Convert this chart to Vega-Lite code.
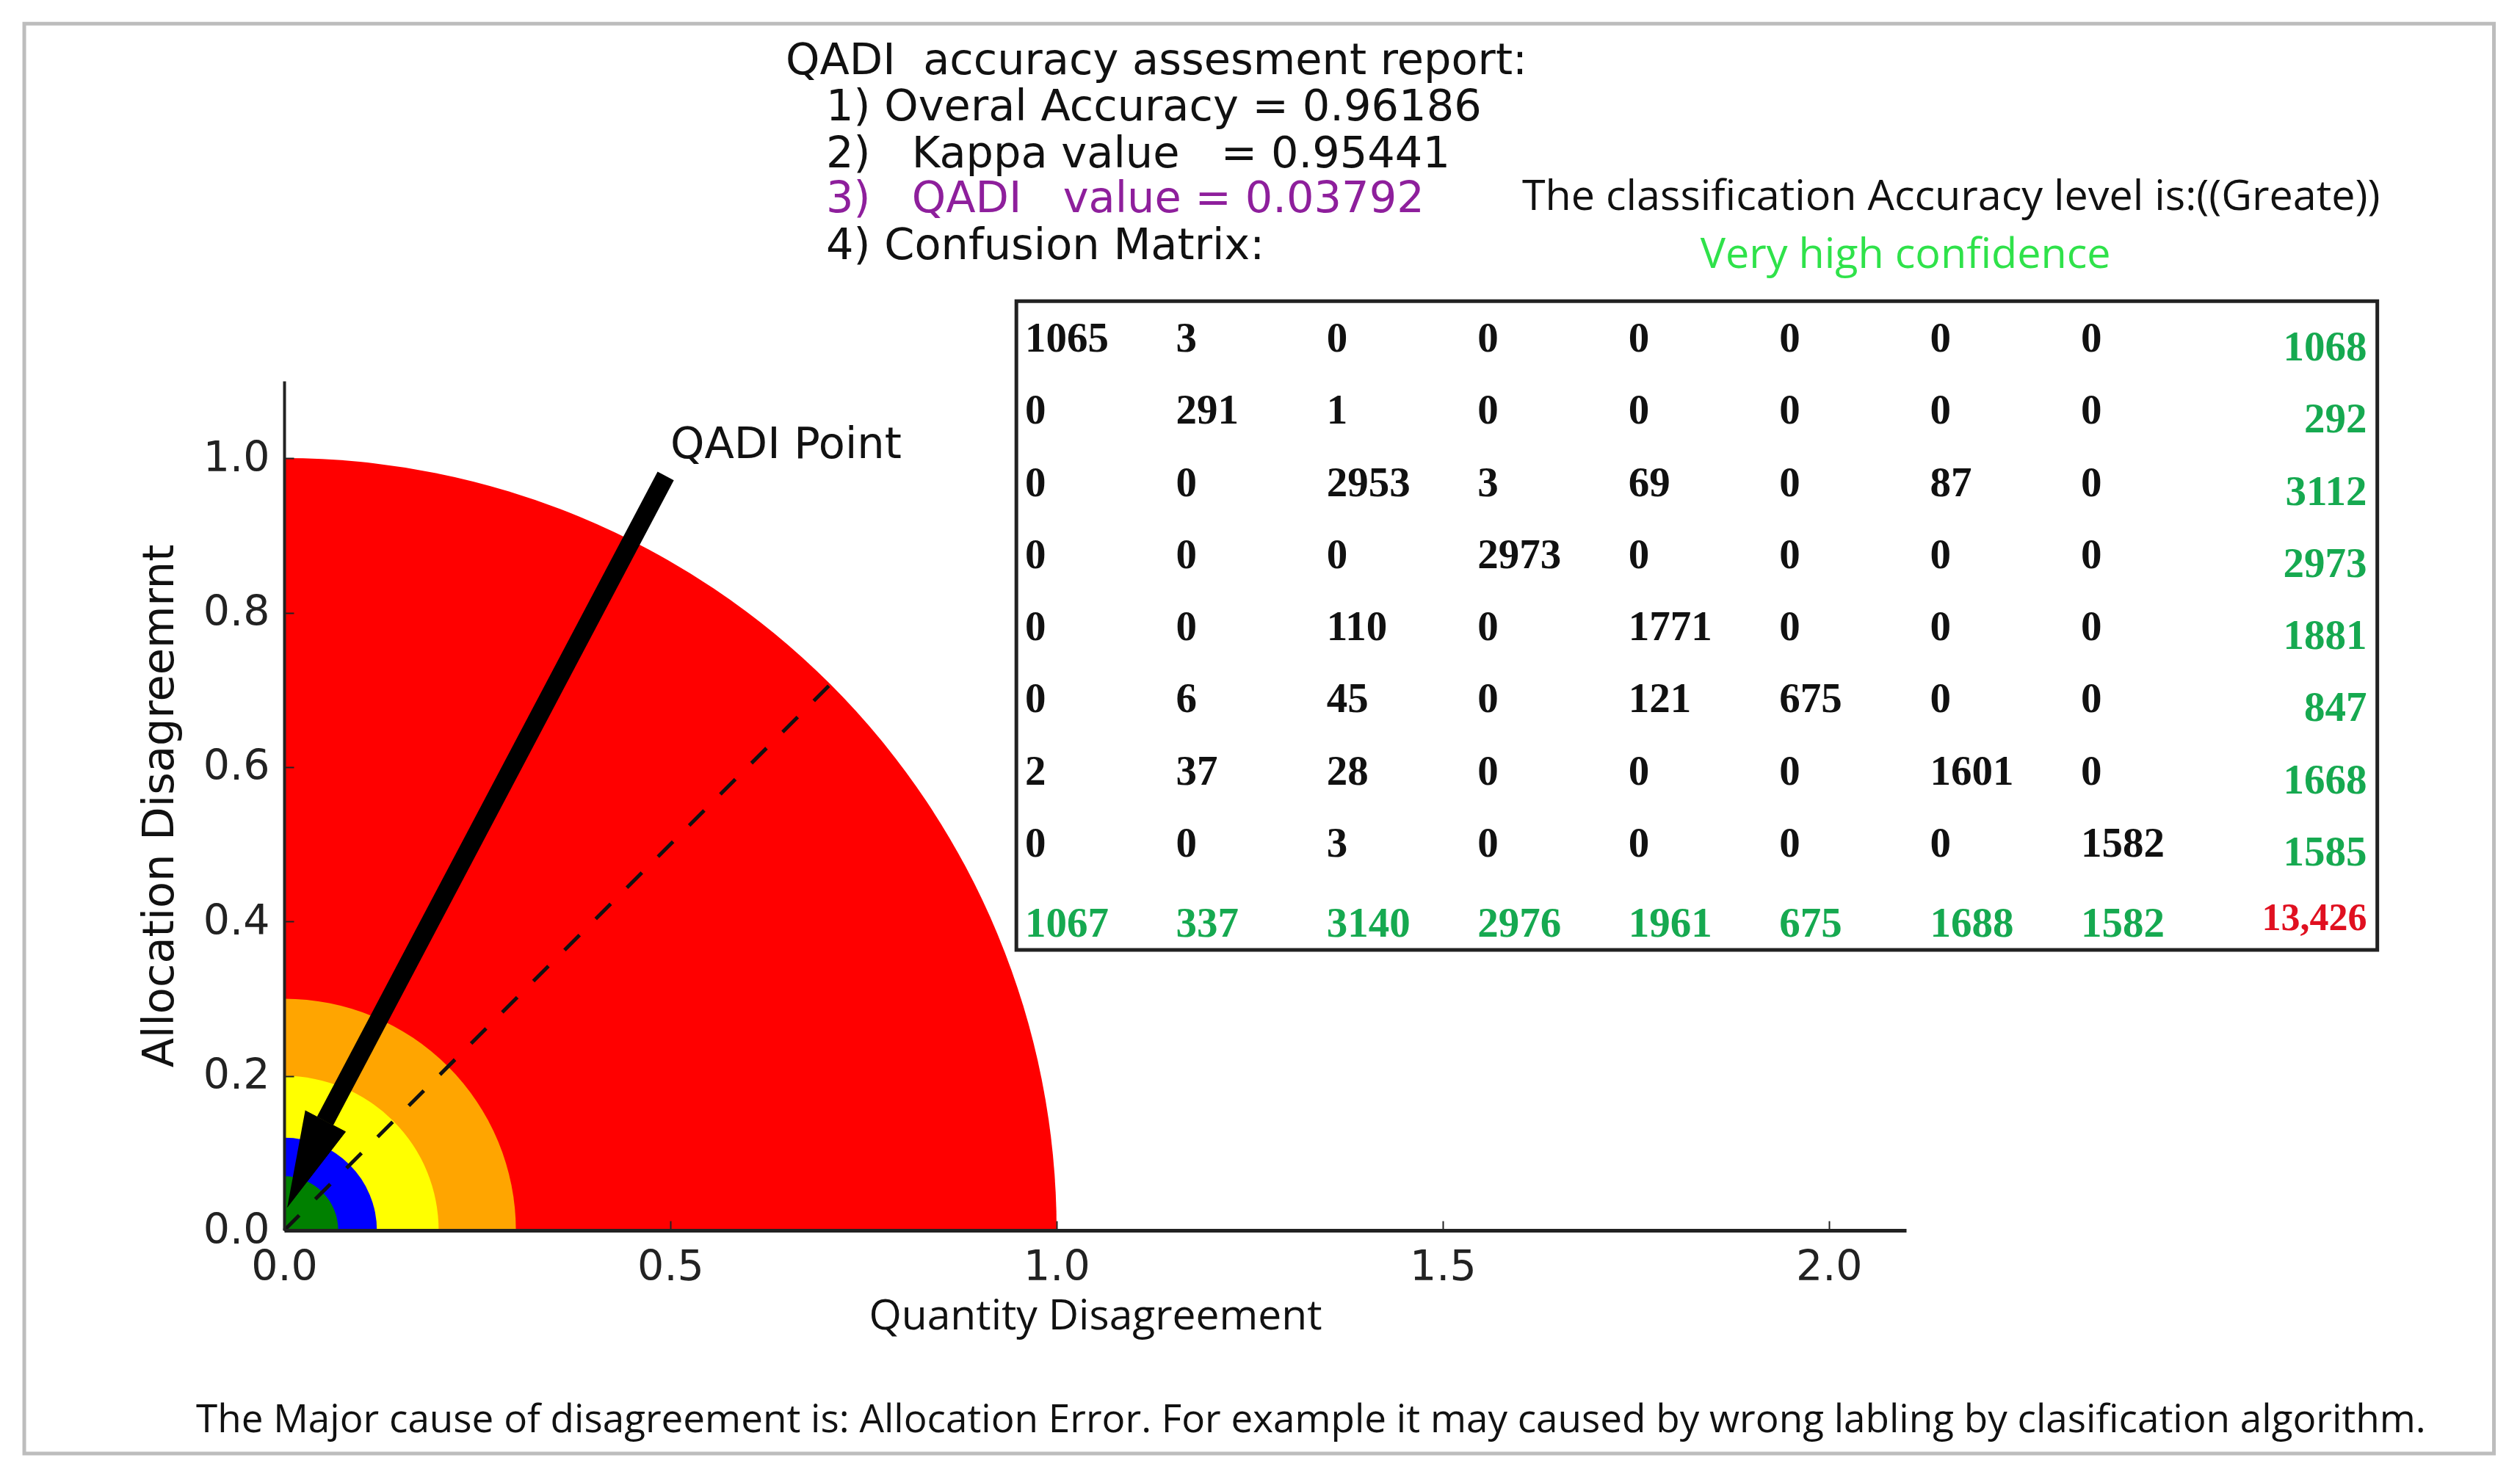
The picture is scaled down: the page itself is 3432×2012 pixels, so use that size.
{
  "$schema": "https://vega.github.io/schema/vega-lite/v6.json",
  "width": 2209,
  "height": 1157,
  "autosize": "none",
  "padding": {"left": 387, "top": 519, "right": 836, "bottom": 336},
  "background": "white",
  "config": {"view": {"stroke": null}},
  "datasets": {
    "zones": [
      {"zone": "red", "qd": 0, "ad": 0, "radius": 1.0},
      {"zone": "orange", "qd": 0, "ad": 0, "radius": 0.3},
      {"zone": "yellow", "qd": 0, "ad": 0, "radius": 0.2},
      {"zone": "blue", "qd": 0, "ad": 0, "radius": 0.12},
      {"zone": "green", "qd": 0, "ad": 0, "radius": 0.07}
    ],
    "diagonal": [{"qd": 0, "ad": 0}, {"qd": 0.707, "ad": 0.707}],
    "shaft": [{"qd": 0.494, "ad": 0.977}, {"qd": 0.053, "ad": 0.1416}],
    "head": [
      {"seq": 1, "qd": 0.0272, "ad": 0.155},
      {"seq": 2, "qd": 0.0794, "ad": 0.1277},
      {"seq": 3, "qd": 0.004, "ad": 0.03}
    ],
    "notes": [
      {"group": "report", "tone": "ink", "qd": 0.6493, "ad": 1.5142, "text": "QADI\u00a0\u00a0accuracy assesment report:"},
      {"group": "report", "tone": "ink", "qd": 0.7015, "ad": 1.4543, "text": "1) Overal Accuracy = 0.96186"},
      {"group": "report", "tone": "ink", "qd": 0.7015, "ad": 1.3934, "text": "2)\u00a0\u00a0\u00a0Kappa value\u00a0\u00a0\u00a0= 0.95441"},
      {"group": "report", "tone": "purple", "qd": 0.7015, "ad": 1.3355, "text": "3)\u00a0\u00a0\u00a0QADI\u00a0\u00a0\u00a0value = 0.03792"},
      {"group": "report", "tone": "ink", "qd": 0.7015, "ad": 1.2746, "text": "4) Confusion Matrix:"},
      {"group": "report", "tone": "ink", "qd": 0.5, "ad": 1.0169, "text": "QADI Point"},
      {"group": "side", "tone": "ink", "qd": 1.6027, "ad": 1.3373, "text": "The classification Accuracy level is:((Greate))"},
      {"group": "side", "tone": "lime", "qd": 1.8336, "ad": 1.2622, "text": "Very high confidence"},
      {"group": "foot", "tone": "ink", "qd": -0.1141, "ad": -0.2464, "text": "The Major cause of disagreement is: Allocation Error. For example it may caused by wrong labling by clasification algorithm."}
    ],
    "matrix": [
      {"kind": "count", "r": 1, "c": 1, "n": 1065}, {"kind": "count", "r": 1, "c": 2, "n": 3}, {"kind": "count", "r": 1, "c": 3, "n": 0}, {"kind": "count", "r": 1, "c": 4, "n": 0}, {"kind": "count", "r": 1, "c": 5, "n": 0}, {"kind": "count", "r": 1, "c": 6, "n": 0}, {"kind": "count", "r": 1, "c": 7, "n": 0}, {"kind": "count", "r": 1, "c": 8, "n": 0},
      {"kind": "count", "r": 2, "c": 1, "n": 0}, {"kind": "count", "r": 2, "c": 2, "n": 291}, {"kind": "count", "r": 2, "c": 3, "n": 1}, {"kind": "count", "r": 2, "c": 4, "n": 0}, {"kind": "count", "r": 2, "c": 5, "n": 0}, {"kind": "count", "r": 2, "c": 6, "n": 0}, {"kind": "count", "r": 2, "c": 7, "n": 0}, {"kind": "count", "r": 2, "c": 8, "n": 0},
      {"kind": "count", "r": 3, "c": 1, "n": 0}, {"kind": "count", "r": 3, "c": 2, "n": 0}, {"kind": "count", "r": 3, "c": 3, "n": 2953}, {"kind": "count", "r": 3, "c": 4, "n": 3}, {"kind": "count", "r": 3, "c": 5, "n": 69}, {"kind": "count", "r": 3, "c": 6, "n": 0}, {"kind": "count", "r": 3, "c": 7, "n": 87}, {"kind": "count", "r": 3, "c": 8, "n": 0},
      {"kind": "count", "r": 4, "c": 1, "n": 0}, {"kind": "count", "r": 4, "c": 2, "n": 0}, {"kind": "count", "r": 4, "c": 3, "n": 0}, {"kind": "count", "r": 4, "c": 4, "n": 2973}, {"kind": "count", "r": 4, "c": 5, "n": 0}, {"kind": "count", "r": 4, "c": 6, "n": 0}, {"kind": "count", "r": 4, "c": 7, "n": 0}, {"kind": "count", "r": 4, "c": 8, "n": 0},
      {"kind": "count", "r": 5, "c": 1, "n": 0}, {"kind": "count", "r": 5, "c": 2, "n": 0}, {"kind": "count", "r": 5, "c": 3, "n": 110}, {"kind": "count", "r": 5, "c": 4, "n": 0}, {"kind": "count", "r": 5, "c": 5, "n": 1771}, {"kind": "count", "r": 5, "c": 6, "n": 0}, {"kind": "count", "r": 5, "c": 7, "n": 0}, {"kind": "count", "r": 5, "c": 8, "n": 0},
      {"kind": "count", "r": 6, "c": 1, "n": 0}, {"kind": "count", "r": 6, "c": 2, "n": 6}, {"kind": "count", "r": 6, "c": 3, "n": 45}, {"kind": "count", "r": 6, "c": 4, "n": 0}, {"kind": "count", "r": 6, "c": 5, "n": 121}, {"kind": "count", "r": 6, "c": 6, "n": 675}, {"kind": "count", "r": 6, "c": 7, "n": 0}, {"kind": "count", "r": 6, "c": 8, "n": 0},
      {"kind": "count", "r": 7, "c": 1, "n": 2}, {"kind": "count", "r": 7, "c": 2, "n": 37}, {"kind": "count", "r": 7, "c": 3, "n": 28}, {"kind": "count", "r": 7, "c": 4, "n": 0}, {"kind": "count", "r": 7, "c": 5, "n": 0}, {"kind": "count", "r": 7, "c": 6, "n": 0}, {"kind": "count", "r": 7, "c": 7, "n": 1601}, {"kind": "count", "r": 7, "c": 8, "n": 0},
      {"kind": "count", "r": 8, "c": 1, "n": 0}, {"kind": "count", "r": 8, "c": 2, "n": 0}, {"kind": "count", "r": 8, "c": 3, "n": 3}, {"kind": "count", "r": 8, "c": 4, "n": 0}, {"kind": "count", "r": 8, "c": 5, "n": 0}, {"kind": "count", "r": 8, "c": 6, "n": 0}, {"kind": "count", "r": 8, "c": 7, "n": 0}, {"kind": "count", "r": 8, "c": 8, "n": 1582},
      {"kind": "rowtotal", "r": 1, "c": 9, "n": 1068}, {"kind": "rowtotal", "r": 2, "c": 9, "n": 292}, {"kind": "rowtotal", "r": 3, "c": 9, "n": 3112}, {"kind": "rowtotal", "r": 4, "c": 9, "n": 2973}, {"kind": "rowtotal", "r": 5, "c": 9, "n": 1881}, {"kind": "rowtotal", "r": 6, "c": 9, "n": 847}, {"kind": "rowtotal", "r": 7, "c": 9, "n": 1668}, {"kind": "rowtotal", "r": 8, "c": 9, "n": 1585},
      {"kind": "coltotal", "r": 9, "c": 1, "n": 1067}, {"kind": "coltotal", "r": 9, "c": 2, "n": 337}, {"kind": "coltotal", "r": 9, "c": 3, "n": 3140}, {"kind": "coltotal", "r": 9, "c": 4, "n": 2976}, {"kind": "coltotal", "r": 9, "c": 5, "n": 1961}, {"kind": "coltotal", "r": 9, "c": 6, "n": 675}, {"kind": "coltotal", "r": 9, "c": 7, "n": 1688}, {"kind": "coltotal", "r": 9, "c": 8, "n": 1582},
      {"kind": "grand", "r": 9, "c": 9, "n": 13426}
    ]
  },
  "layer": [
    {
      "encoding": {
        "x": {
          "field": "qd",
          "type": "quantitative",
          "scale": {"domain": [0, 2.1], "nice": false},
          "axis": {
            "title": "Quantity Disagreement",
            "values": [0, 0.5, 1, 1.5, 2],
            "format": ".1f",
            "grid": false,
            "zindex": 1,
            "domainColor": "#222222",
            "domainWidth": 5,
            "tickColor": "#222222",
            "tickWidth": 2,
            "tickSize": -13,
            "labelColor": "#222222",
            "labelFont": "DejaVu Sans",
            "labelFontSize": 57,
            "labelPadding": 35,
            "labelOverlap": false,
            "labelFlush": false,
            "titleColor": "#111111",
            "titleFont": "Open Sans",
            "titleFontSize": 57,
            "titleFontWeight": "normal",
            "titlePadding": 11
          }
        },
        "y": {
          "field": "ad",
          "type": "quantitative",
          "scale": {"domain": [0, 1.1], "nice": false},
          "axis": {
            "title": "Allocation Disagreemrnt",
            "values": [0, 0.2, 0.4, 0.6, 0.8, 1],
            "format": ".1f",
            "grid": false,
            "zindex": 1,
            "domainColor": "#222222",
            "domainWidth": 4,
            "tickColor": "#222222",
            "tickWidth": 2,
            "tickSize": -13,
            "labelColor": "#222222",
            "labelFont": "DejaVu Sans",
            "labelFontSize": 57,
            "labelPadding": 33,
            "labelOverlap": false,
            "labelFlush": false,
            "titleColor": "#111111",
            "titleFont": "DejaVu Sans",
            "titleFontSize": 59,
            "titleFontWeight": "normal",
            "titlePadding": 29
          }
        }
      },
      "layer": [
        {
          "data": {"values": [{"qd": -0.3365, "qd2": 2.861, "ad": 1.5627, "ad2": -0.289}]},
          "mark": {"type": "rect", "fill": "white", "stroke": "#bdbdbd", "strokeWidth": 5},
          "encoding": {"x2": {"field": "qd2"}, "y2": {"field": "ad2"}}
        },
        {
          "data": {"values": [{"qd": 0.948, "qd2": 2.71, "ad": 1.2034, "ad2": 0.3631}]},
          "mark": {"type": "rect", "fill": "white", "stroke": "#222222", "strokeWidth": 5},
          "encoding": {"x2": {"field": "qd2"}, "y2": {"field": "ad2"}}
        },
        {
          "data": {"name": "zones"},
          "mark": {"type": "arc"},
          "encoding": {
            "theta": {"value": 0},
            "theta2": {"value": 1.5708},
            "radius": {
              "field": "radius",
              "type": "quantitative",
              "stack": null,
              "scale": {"type": "linear", "domain": [0, 1], "range": [0, 1052]}
            },
            "color": {
              "field": "zone",
              "type": "nominal",
              "legend": null,
              "scale": {
                "domain": ["red", "orange", "yellow", "blue", "green", "ink", "purple", "lime"],
                "range": ["#ff0000", "#ffa500", "#ffff00", "#0000ff", "#008000", "#111111", "#8e1f9c", "#2fe24a"]
              }
            }
          }
        },
        {
          "data": {"name": "diagonal"},
          "mark": {"type": "line", "color": "#111111", "strokeWidth": 5, "strokeDash": [29, 31]}
        },
        {
          "data": {"name": "shaft"},
          "mark": {"type": "line", "color": "black", "strokeWidth": 25, "strokeCap": "butt"}
        },
        {
          "data": {"name": "head"},
          "mark": {"type": "line", "color": "black", "fill": "black", "strokeWidth": 1},
          "encoding": {"order": {"field": "seq"}}
        },
        {
          "data": {"name": "notes"},
          "transform": [{"filter": "datum.group == 'report'"}],
          "mark": {"type": "text", "align": "left", "baseline": "middle", "font": "DejaVu Sans", "fontSize": 59},
          "encoding": {
            "text": {"field": "text"},
            "color": {"field": "tone", "type": "nominal", "legend": null}
          }
        },
        {
          "data": {"name": "notes"},
          "transform": [{"filter": "datum.group == 'side'"}],
          "mark": {"type": "text", "align": "left", "baseline": "middle", "font": "Open Sans", "fontSize": 57.5},
          "encoding": {
            "text": {"field": "text"},
            "color": {"field": "tone", "type": "nominal", "legend": null}
          }
        },
        {
          "data": {"name": "notes"},
          "transform": [{"filter": "datum.group == 'foot'"}],
          "mark": {"type": "text", "align": "left", "baseline": "middle", "font": "Open Sans", "fontSize": 53},
          "encoding": {
            "text": {"field": "text"},
            "color": {"field": "tone", "type": "nominal", "legend": null}
          }
        }
      ]
    },
    {
      "data": {"name": "matrix"},
      "encoding": {
        "x": {
          "field": "c",
          "type": "quantitative",
          "axis": null,
          "scale": {"domain": [1, 8], "range": [1009, 2447], "nice": false, "zero": false}
        },
        "y": {
          "field": "r",
          "type": "quantitative",
          "axis": null,
          "scale": {"domain": [1, 8], "range": [-57, 631], "nice": false, "zero": false}
        },
        "text": {"field": "n", "type": "quantitative", "format": "d"}
      },
      "layer": [
        {
          "transform": [{"filter": "datum.kind == 'count'"}],
          "mark": {"type": "text", "align": "left", "baseline": "middle", "font": "Liberation Serif", "fontWeight": "bold", "fontSize": 57, "color": "#111111"}
        },
        {
          "transform": [{"filter": "datum.kind == 'coltotal'"}],
          "mark": {"type": "text", "align": "left", "baseline": "middle", "dy": 11, "font": "Liberation Serif", "fontWeight": "bold", "fontSize": 57, "color": "#16a950"}
        },
        {
          "transform": [{"filter": "datum.kind == 'rowtotal'"}],
          "mark": {"type": "text", "align": "right", "baseline": "middle", "dx": 184, "dy": 12, "font": "Liberation Serif", "fontWeight": "bold", "fontSize": 57, "color": "#16a950"}
        },
        {
          "transform": [{"filter": "datum.kind == 'grand'"}],
          "mark": {"type": "text", "align": "right", "baseline": "middle", "dx": 184, "dy": 3, "font": "Liberation Serif", "fontWeight": "bold", "fontSize": 52, "color": "#e01020"},
          "encoding": {"text": {"field": "n", "type": "quantitative", "format": ","}}
        }
      ]
    }
  ],
  "resolve": {"scale": {"x": "independent", "y": "independent"}}
}
